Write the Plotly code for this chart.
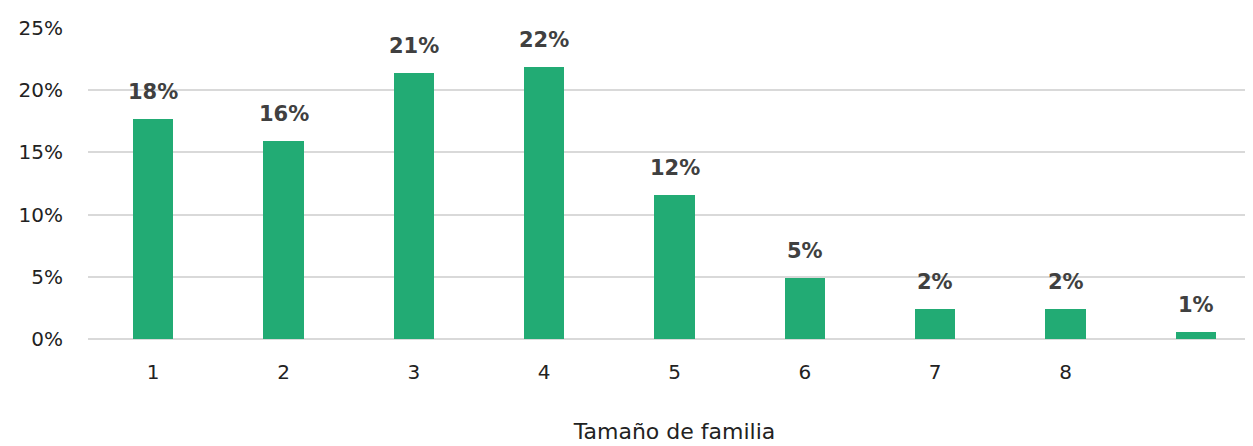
import plotly.graph_objects as go

categories = [0, 1, 2, 3, 4, 5, 6, 7, 8]
tick_labels = ["1", "2", "3", "4", "5", "6", "7", "8", ""]
values = [0.177, 0.159, 0.214, 0.219, 0.116, 0.049, 0.024, 0.024, 0.006]
y_ticks = [0, 0.05, 0.10, 0.15, 0.20, 0.25]
y_tick_labels = ["0%", "5%", "10%", "15%", "20%", "25%"]
x_title = "Tamaño de familia"

GREEN = "#22ab74"
FONT = "DejaVu Sans"
TXT = "#222222"

fig = go.Figure()
fig.add_trace(go.Bar(
    x=categories, y=values, marker=dict(color=GREEN, line=dict(width=0)),
    width=0.31, hoverinfo="skip",
))

for c, v in zip(categories, values):
    fig.add_annotation(
        x=c, y=v, text=f"<b>{round(v*100):d}%</b>", showarrow=False,
        yanchor="bottom", yshift=13,
        font=dict(family=FONT, size=21, color="#404040"),
    )

fig.update_layout(
    width=1253, height=446,
    margin=dict(l=80, r=0, t=20, b=115),
    paper_bgcolor="white", plot_bgcolor="white",
    showlegend=False, bargap=0,
    font=dict(family=FONT, color=TXT),
)
fig.update_xaxes(
    range=[-0.5, 8.5], tickmode="array", tickvals=categories, ticktext=tick_labels,
    showgrid=False, zeroline=False, showline=False, ticks="",
    tickfont=dict(family=FONT, size=20, color=TXT), ticklabelstandoff=19,
    title=dict(text=x_title, font=dict(family=FONT, size=22, color=TXT), standoff=40),
)
fig.update_yaxes(
    range=[0, 0.25], tickmode="array", tickvals=y_ticks, ticktext=y_tick_labels,
    showgrid=True, gridcolor="#d9d9d9", gridwidth=1.5, zeroline=True, zerolinecolor="#d9d9d9",
    zerolinewidth=1.5, showline=False, ticks="",
    tickfont=dict(family=FONT, size=20, color=TXT), ticklabelstandoff=24,
)

fig.write_html("out.html")
